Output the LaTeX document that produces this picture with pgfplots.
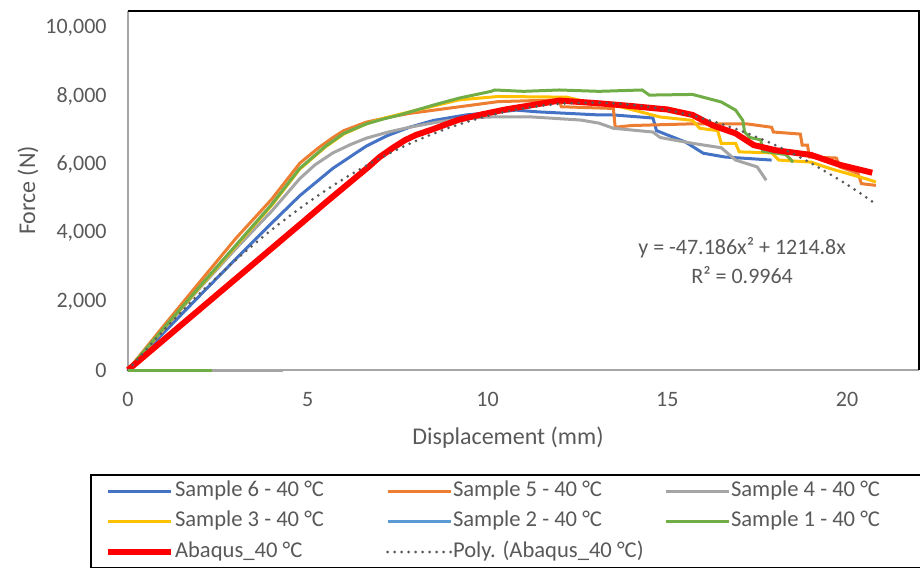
\documentclass[border=0pt]{standalone}
\usepackage{fontspec}
\setmainfont{Carlito}
\usepackage{pgfplots}
\pgfplotsset{compat=1.18}

\definecolor{sixc}{HTML}{4472C4}
\definecolor{fivec}{HTML}{ED7D31}
\definecolor{fourc}{HTML}{A5A5A5}
\definecolor{threec}{HTML}{FFC000}
\definecolor{twoc}{HTML}{5B9BD5}
\definecolor{onec}{HTML}{70AD47}
\definecolor{txt}{HTML}{595959}
\definecolor{axgray}{HTML}{A6A6A6}

\newcommand{\chartfont}{\fontsize{11bp}{13bp}\selectfont}
\newcommand{\titlefont}{\fontsize{12bp}{14bp}\selectfont}
\newcommand{\legfont}{\fontsize{11.3bp}{13bp}\selectfont}
\newcommand{\legA}[1]{\hspace{0.5bp}\makebox[105.5bp][l]{#1}}
\newcommand{\legB}[1]{\hspace{0.5bp}\makebox[93.5bp][l]{#1}}

\begin{document}
\begin{tikzpicture}
\begin{axis}[
  name=ax,
  width=395.5bp, height=179.5bp, scale only axis,
  xmin=0, xmax=22, ymin=0, ymax=10500,
  xtick={0,5,10,15,20},
  ytick={0,2000,4000,6000,8000,10000},
  scaled y ticks=false,
  axis line style={draw=none},
  major tick length=0pt,
  /pgf/number format/assume math mode=true,
  /pgf/number format/.cd, 1000 sep={,}, /pgfplots/.cd,
  tick label style={font=\chartfont, text=txt, inner sep=0pt},
  yticklabel style={xshift=-10.5bp},
  xticklabel style={yshift=-10.75bp},
  xlabel={Displacement (mm)},
  ylabel={Force (N)},
  label style={font=\titlefont, text=txt, inner sep=0pt},
  xlabel style={at={(axis description cs:0.4804,-0.1894)}, anchor=center},
  ylabel style={at={(axis description cs:-0.1264,0.5)}, anchor=center},
  clip=false,
  legend columns=3,
  legend style={
    at={(axis description cs:-0.048,-0.2897)}, anchor=north west,
    draw=black, line width=1bp,
    font=\legfont, text=txt,
    inner xsep=7bp, inner ysep=2.5bp,
    row sep=4.25bp, column sep=0pt,
    nodes={inner sep=0pt, text height=8bp, text depth=3bp},
    cells={anchor=west},
  },
  legend image code/.code={\draw[#1] (0bp,0bp) -- (31.5bp,0bp);},
]
\draw[axgray, line width=1bp] (rel axis cs:0,1) -- (rel axis cs:0,0) -- (rel axis cs:1,0);
\draw[black, line width=1bp] (rel axis cs:0,1) -- (rel axis cs:1,1) -- (rel axis cs:1,0);

% Sample 6
\addplot[sixc, line width=1.5bp] coordinates {
(0,0) (1,1100) (2,2180) (3,3250) (4,4300) (4.78,5100) (5.7,5900) (6.2,6250)
(6.63,6550) (7.2,6850) (7.83,7100) (8.5,7300) (9.4,7460) (10.8,7600)
(11.4,7550) (13.1,7460) (13.5,7460) (14.6,7370) (14.7,7000) (15.5,6670)
(16,6340) (16.6,6230) (17.9,6140)};
\addlegendentry{\legA{Sample 6 - 40 °C}}
% Sample 5
\addplot[fivec, line width=1.5bp] coordinates {
(0,0) (1,1300) (2,2580) (3,3850) (4,5000) (4.78,6050) (5.3,6500) (5.7,6800)
(6.0,7000) (6.63,7250) (7.2,7380) (7.8,7500) (8.94,7660) (10.3,7850)
(12,7900) (12.05,7700) (13.5,7650) (13.55,7100) (14,7150) (15.7,7200)
(17.2,7200) (17.9,7100) (17.95,6960) (18.7,6900) (18.75,6580) (18.9,6580)
(18.95,6230) (19.7,6200) (19.8,5940) (20.3,5750) (20.4,5450) (20.8,5400)};
\addlegendentry{\legA{Sample 5 - 40 °C}}
% Sample 4
\addplot[fourc, line width=1.5bp] coordinates {
(0,0) (1,1200) (2,2400) (3,3550) (4,4650) (4.78,5600) (5.2,6000) (5.7,6350)
(6.2,6600) (6.63,6780) (7.2,6950) (7.83,7100) (8.6,7250) (9.4,7370)
(10.1,7400) (11.25,7400) (12.6,7310) (13.1,7220) (13.5,7070) (14.6,6960)
(14.8,6800) (15.7,6630) (16.5,6500) (16.9,6140) (17.5,5940) (17.75,5550)};
\addlegendentry{\legB{Sample 4 - 40 °C}}
% Sample 3
\addplot[threec, line width=1.5bp] coordinates {
(0,0) (1,1220) (2,2430) (3,3620) (4,4820) (4.78,5880) (5.5,6530) (6.0,6900)
(6.63,7200) (7.1,7360) (7.56,7480) (8.5,7720) (9.2,7900) (10.3,8000)
(12.2,7980) (12.6,7880) (13.7,7700) (14.8,7400) (15.7,7300) (15.9,7070)
(16.4,7000) (16.5,6630) (16.9,6630) (17,6380) (17.9,6350) (18.1,6140)
(19,6080) (19.5,5900) (20,5750) (20.5,5600) (20.8,5500)};
\addlegendentry{\legA{Sample 3 - 40 °C}}
% Sample 2
\addplot[twoc, line width=1.5bp] coordinates {(0,0) (1.5,0)};
\addlegendentry{\legA{Sample 2 - 40 °C}}
% Sample 1
\addplot[onec, line width=1.5bp] coordinates {
(0,0) (1,1230) (2,2450) (3,3650) (4,4850) (4.78,5900) (5.5,6550) (6.0,6920)
(6.63,7200) (7.1,7340) (7.56,7460) (8.5,7750) (9.2,7950) (10.1,8150)
(10.2,8190) (11,8150) (12,8190) (13.1,8150) (14.3,8190) (14.5,8040)
(15.7,8060) (16.5,7840) (16.9,7600) (17.1,7300) (17.15,6960) (17.3,6800)
(17.6,6730) (17.65,6400) (18.3,6300) (18.5,6080)};
\addlegendentry{\legB{Sample 1 - 40 °C}}
% Abaqus
\addplot[red, line width=3bp] coordinates {
(0,0) (1,890) (2,1780) (3,2670) (4,3560) (5,4450) (5.5,4900) (6.7,5950)
(7.0,6230) (7.37,6500) (7.7,6720) (8,6870) (8.5,7050) (9.2,7320)
(9.86,7480) (10.5,7620) (11.25,7750) (12,7880) (13.1,7800) (14,7720)
(15,7620) (15.7,7460) (16.25,7160) (16.9,6920) (17.4,6580) (18,6430)
(19,6290) (19.8,6000) (20.7,5770)};
\addlegendentry{\legA{Abaqus\_40 °C}}
% polynomial trend
\addplot[txt, line width=1.5bp, line cap=round, dash pattern=on 0bp off 3.5bp, smooth] coordinates {
(0,0) (1,1167.6) (2,2240.9) (3,3219.7) (4,4104.2) (5,4894.4) (6,5590.1)
(7,6191.5) (8,6698.5) (9,7111.1) (10,7429.4) (11,7653.3) (12,7782.8)
(13,7818.0) (14,7758.7) (15,7605.1) (16,7357.2) (17,7014.8) (18,6578.1)
(19,6047.1) (20,5421.6) (20.7,4927.7)};
\addlegendentry{\legA{Poly. (Abaqus\_40 °C)}}
% zero rows
\addplot[fourc, line width=1.5bp, forget plot] coordinates {(0,0) (4.3,0)};
\addplot[onec, line width=1.5bp, forget plot] coordinates {(0,0) (2.33,0)};

\node[font=\chartfont, text=txt, anchor=center] at (axis cs:17.08,3570) {y = -47.186x² + 1214.8x};
\node[font=\chartfont, text=txt, anchor=center] at (axis cs:17.08,2780) {R² = 0.9964};
\end{axis}
\pgfresetboundingbox
\path ([shift={(-64bp,-99bp)}]ax.south west) rectangle ++(460bp,284bp);
\end{tikzpicture}
\end{document}
